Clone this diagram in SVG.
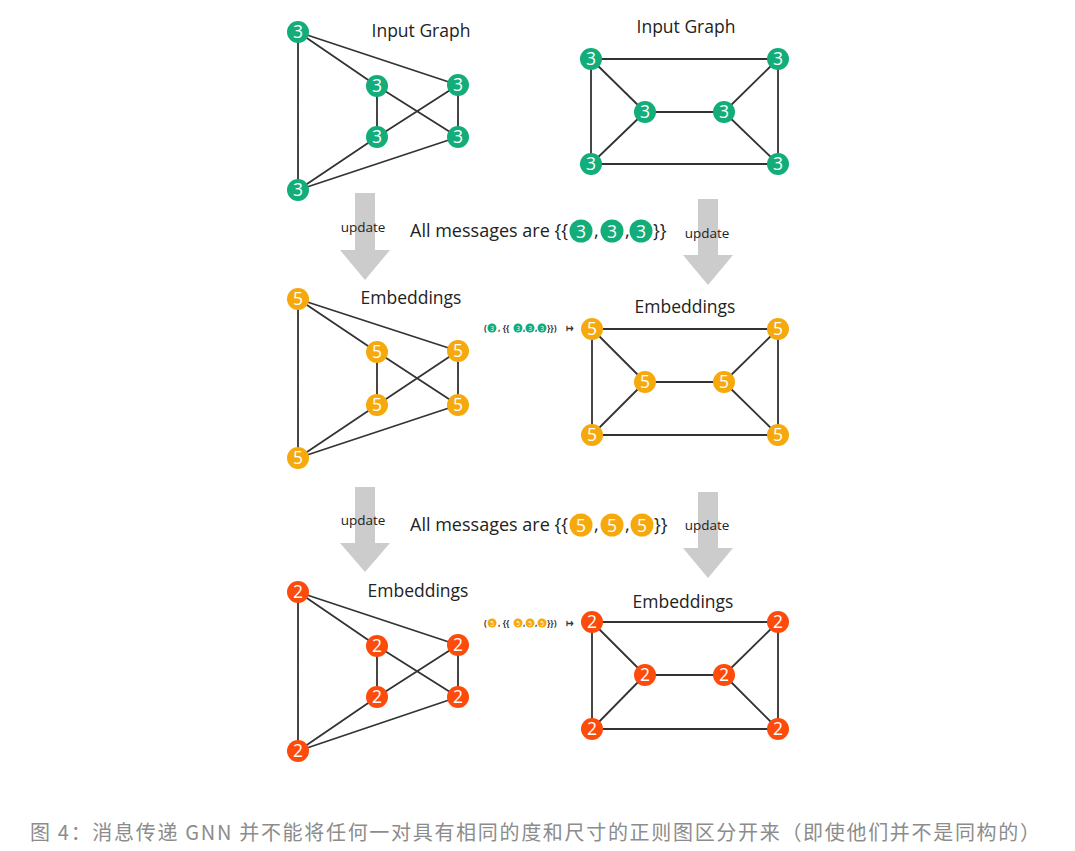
<svg xmlns="http://www.w3.org/2000/svg" width="1075" height="851" viewBox="0 0 1075 851">
<style>
.bg{fill:#ffffff}
.e{stroke:#333333;stroke-width:1.8;fill:none}
.g{fill:#12ad78}
.y{fill:#f6a90c}
.r{fill:#fd4b0b}
.nt{font-family:"Open Sans","Noto Sans",sans-serif;font-size:17.5px;fill:#ffffff;text-anchor:middle}
.title{font-family:"Open Sans","Noto Sans",sans-serif;font-size:17.5px;fill:#222222;text-anchor:middle}
.upd{font-family:"Open Sans","Noto Sans",sans-serif;font-size:13.5px;fill:#222222;text-anchor:middle}
.msg{font-family:"Open Sans","Noto Sans",sans-serif;font-size:18px;fill:#222222}
.arr{fill:#cccccc}
.sm{font-family:"Open Sans","Noto Sans",sans-serif;font-size:8.5px;font-weight:bold;fill:#333344}
.smt{font-family:"Open Sans","Noto Sans",sans-serif;font-size:6.5px;fill:#ffffff;text-anchor:middle}
.cap{font-family:"Noto Sans CJK SC","Noto Sans",sans-serif;font-size:20px;fill:#8c8c8c}
</style>
<rect class="bg" x="0" y="0" width="1075" height="851"/>

<g id="connectors">
  <path class="e" d="M298,32 L298,190 M298,32 L377,86 M298,32 L458,85 M377,86 L377,137 M377,86 L458,137 M458,85 L377,137 M458,85 L458,137 M377,137 L298,190 M458,137 L298,190"/>
  <path class="e" d="M591,59 L778,59 M591,59 L591,164 M591,59 L645,112 M645,112 L724,112 M645,112 L591,164 M724,112 L778,59 M724,112 L778,164 M778,59 L778,164 M591,164 L778,164"/>
  <path class="e" d="M298,299 L298,458 M298,299 L377,352 M298,299 L458,351 M377,352 L377,405 M377,352 L458,405 M458,351 L377,405 M458,351 L458,405 M377,405 L298,458 M458,405 L298,458"/>
  <path class="e" d="M592,329 L778,329 M592,329 L592,435 M592,329 L645,382 M645,382 L724,382 M645,382 L592,435 M724,382 L778,329 M724,382 L778,435 M778,329 L778,435 M592,435 L778,435"/>
  <path class="e" d="M298,592 L298,751 M298,592 L377,646 M298,592 L458,645 M377,646 L377,697 M377,646 L458,697 M458,645 L377,697 M458,645 L458,697 M377,697 L298,751 M458,697 L298,751"/>
  <path class="e" d="M592,622 L778,622 M592,622 L592,729 M592,622 L645,675 M645,675 L724,675 M645,675 L592,729 M724,675 L778,622 M724,675 L778,729 M778,622 L778,729 M592,729 L778,729"/>
</g>

<g id="arrows">
  <polygon class="arr" points="355,193 375,193 375,250 390,250 365,280 340,250 355,250"/>
  <polygon class="arr" points="698,199 718,199 718,255 733,255 708,285 683,255 698,255"/>
  <polygon class="arr" points="355,487 375,487 375,543 390,543 365,572 340,543 355,543"/>
  <polygon class="arr" points="698,492 718,492 718,548 733,548 708,578 683,548 698,548"/>
  <text class="upd" x="363" y="232">update</text>
  <text class="upd" x="707" y="238">update</text>
  <text class="upd" x="363" y="525">update</text>
  <text class="upd" x="707" y="530">update</text>
</g>

<g id="titles">
  <text class="title" x="421" y="37">Input Graph</text>
  <text class="title" x="686" y="33">Input Graph</text>
  <text class="title" x="411" y="304">Embeddings</text>
  <text class="title" x="685" y="313">Embeddings</text>
  <text class="title" x="418" y="597">Embeddings</text>
  <text class="title" x="683" y="608">Embeddings</text>
</g>

<g id="n1a"><circle class="g" cx="298" cy="32" r="11"/><text class="nt" x="298" y="38.3">3</text></g>
<g id="n1b"><circle class="g" cx="377" cy="86" r="11"/><text class="nt" x="377" y="92.3">3</text></g>
<g id="n1c"><circle class="g" cx="458" cy="85" r="11"/><text class="nt" x="458" y="91.3">3</text></g>
<g id="n1d"><circle class="g" cx="377" cy="137" r="11"/><text class="nt" x="377" y="143.3">3</text></g>
<g id="n1e"><circle class="g" cx="458" cy="137" r="11"/><text class="nt" x="458" y="143.3">3</text></g>
<g id="n1f"><circle class="g" cx="298" cy="190" r="11"/><text class="nt" x="298" y="196.3">3</text></g>
<g id="m1a"><circle class="g" cx="591" cy="59" r="11"/><text class="nt" x="591" y="65.3">3</text></g>
<g id="m1b"><circle class="g" cx="778" cy="59" r="11"/><text class="nt" x="778" y="65.3">3</text></g>
<g id="m1c"><circle class="g" cx="645" cy="112" r="11"/><text class="nt" x="645" y="118.3">3</text></g>
<g id="m1d"><circle class="g" cx="724" cy="112" r="11"/><text class="nt" x="724" y="118.3">3</text></g>
<g id="m1e"><circle class="g" cx="591" cy="164" r="11"/><text class="nt" x="591" y="170.3">3</text></g>
<g id="m1f"><circle class="g" cx="778" cy="164" r="11"/><text class="nt" x="778" y="170.3">3</text></g>

<g id="n2a"><circle class="y" cx="298" cy="299" r="11"/><text class="nt" x="298" y="305.3">5</text></g>
<g id="n2b"><circle class="y" cx="377" cy="352" r="11"/><text class="nt" x="377" y="358.3">5</text></g>
<g id="n2c"><circle class="y" cx="458" cy="351" r="11"/><text class="nt" x="458" y="357.3">5</text></g>
<g id="n2d"><circle class="y" cx="377" cy="405" r="11"/><text class="nt" x="377" y="411.3">5</text></g>
<g id="n2e"><circle class="y" cx="458" cy="405" r="11"/><text class="nt" x="458" y="411.3">5</text></g>
<g id="n2f"><circle class="y" cx="298" cy="458" r="11"/><text class="nt" x="298" y="464.3">5</text></g>
<g id="m2a"><circle class="y" cx="592" cy="329" r="11"/><text class="nt" x="592" y="335.3">5</text></g>
<g id="m2b"><circle class="y" cx="778" cy="329" r="11"/><text class="nt" x="778" y="335.3">5</text></g>
<g id="m2c"><circle class="y" cx="645" cy="382" r="11"/><text class="nt" x="645" y="388.3">5</text></g>
<g id="m2d"><circle class="y" cx="724" cy="382" r="11"/><text class="nt" x="724" y="388.3">5</text></g>
<g id="m2e"><circle class="y" cx="592" cy="435" r="11"/><text class="nt" x="592" y="441.3">5</text></g>
<g id="m2f"><circle class="y" cx="778" cy="435" r="11"/><text class="nt" x="778" y="441.3">5</text></g>

<g id="n3a"><circle class="r" cx="298" cy="592" r="11"/><text class="nt" x="298" y="598.3">2</text></g>
<g id="n3b"><circle class="r" cx="377" cy="646" r="11"/><text class="nt" x="377" y="652.3">2</text></g>
<g id="n3c"><circle class="r" cx="458" cy="645" r="11"/><text class="nt" x="458" y="651.3">2</text></g>
<g id="n3d"><circle class="r" cx="377" cy="697" r="11"/><text class="nt" x="377" y="703.3">2</text></g>
<g id="n3e"><circle class="r" cx="458" cy="697" r="11"/><text class="nt" x="458" y="703.3">2</text></g>
<g id="n3f"><circle class="r" cx="298" cy="751" r="11"/><text class="nt" x="298" y="757.3">2</text></g>
<g id="m3a"><circle class="r" cx="592" cy="622" r="11"/><text class="nt" x="592" y="628.3">2</text></g>
<g id="m3b"><circle class="r" cx="778" cy="622" r="11"/><text class="nt" x="778" y="628.3">2</text></g>
<g id="m3c"><circle class="r" cx="645" cy="675" r="11"/><text class="nt" x="645" y="681.3">2</text></g>
<g id="m3d"><circle class="r" cx="724" cy="675" r="11"/><text class="nt" x="724" y="681.3">2</text></g>
<g id="m3e"><circle class="r" cx="592" cy="729" r="11"/><text class="nt" x="592" y="735.3">2</text></g>
<g id="m3f"><circle class="r" cx="778" cy="729" r="11"/><text class="nt" x="778" y="735.3">2</text></g>

<g id="msg1">
  <text class="msg" x="410" y="237" textLength="158" lengthAdjust="spacing">All messages are {{</text>
  <circle class="g" cx="581" cy="231" r="11.5"/><text class="nt" x="581" y="237.5">3</text>
  <text class="msg" x="594" y="237">,</text>
  <circle class="g" cx="612" cy="231" r="11.5"/><text class="nt" x="612" y="237.5">3</text>
  <text class="msg" x="625" y="237">,</text>
  <circle class="g" cx="641" cy="231" r="11.5"/><text class="nt" x="641" y="237.5">3</text>
  <text class="msg" x="653" y="237">}}</text>
</g>
<g id="msg2">
  <text class="msg" x="410" y="531" textLength="158" lengthAdjust="spacing">All messages are {{</text>
  <circle class="y" cx="581" cy="525" r="11.5"/><text class="nt" x="581" y="531.5">5</text>
  <text class="msg" x="594" y="531">,</text>
  <circle class="y" cx="612" cy="525" r="11.5"/><text class="nt" x="612" y="531.5">5</text>
  <text class="msg" x="625" y="531">,</text>
  <circle class="y" cx="642" cy="525" r="11.5"/><text class="nt" x="642" y="531.5">5</text>
  <text class="msg" x="654" y="531">}}</text>
</g>

<g id="rule1">
  <text class="sm" x="484" y="331">(</text>
  <circle class="g" cx="492" cy="328" r="4.5"/><text class="smt" x="492" y="330.5">3</text>
  <text class="sm" x="498" y="331">, {{</text>
  <circle class="g" cx="518" cy="328" r="4.5"/><text class="smt" x="518" y="330.5">3</text>
  <text class="sm" x="523" y="331">,</text>
  <circle class="g" cx="530" cy="328" r="4.5"/><text class="smt" x="530" y="330.5">3</text>
  <text class="sm" x="535" y="331">,</text>
  <circle class="g" cx="542" cy="328" r="4.5"/><text class="smt" x="542" y="330.5">3</text>
  <text class="sm" x="547" y="331" font-size="9.5">}})</text>
  <text class="sm" x="566" y="331">↦</text>
</g>
<g id="rule2">
  <text class="sm" x="484" y="626">(</text>
  <circle class="y" cx="492" cy="623" r="4.5"/><text class="smt" x="492" y="625.5">5</text>
  <text class="sm" x="498" y="626">, {{</text>
  <circle class="y" cx="518" cy="623" r="4.5"/><text class="smt" x="518" y="625.5">5</text>
  <text class="sm" x="523" y="626">,</text>
  <circle class="y" cx="530" cy="623" r="4.5"/><text class="smt" x="530" y="625.5">5</text>
  <text class="sm" x="535" y="626">,</text>
  <circle class="y" cx="542" cy="623" r="4.5"/><text class="smt" x="542" y="625.5">5</text>
  <text class="sm" x="547" y="626" font-size="9.5">}})</text>
  <text class="sm" x="566" y="626">↦</text>
</g>

<text class="cap" x="30" y="840" textLength="1010" lengthAdjust="spacing">图 4：消息传递 GNN 并不能将任何一对具有相同的度和尺寸的正则图区分开来（即使他们并不是同构的）</text>
</svg>
